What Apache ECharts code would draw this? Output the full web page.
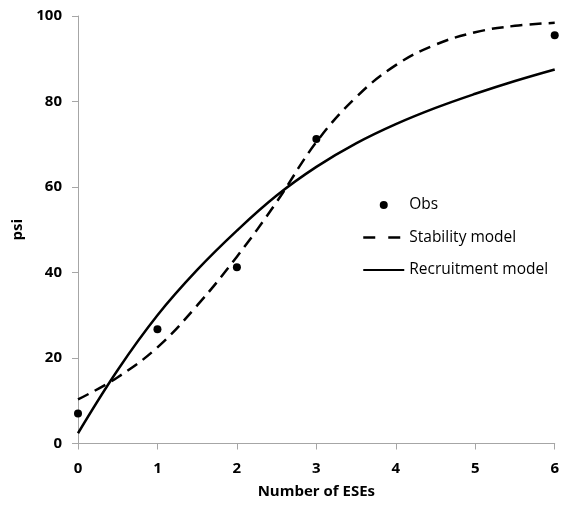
<!DOCTYPE html>
<html>
<head>
<meta charset="utf-8">
<script src="https://cdn.jsdelivr.net/npm/echarts@6/dist/echarts.min.js"></script>
<style>html,body{margin:0;padding:0;background:#fff;}#c{width:562px;height:510px;}</style>
</head>
<body>
<div id="c"></div>
<script>
// Observed values
const obsX = [0, 1, 2, 3, 6];
const obsY = [7, 26.7, 41.2, 71.2, 95.5];
// Stability model (dashed)
const stabX = [0, 0.5, 1, 1.5, 2, 2.5, 3, 3.5, 4, 4.5, 5, 5.5, 6];
const stabY = [10.3, 15.5, 22.5, 32.3, 43.7, 56.5, 70.5, 81, 88.5, 93.3, 96.2, 97.7, 98.4];
// Recruitment model (solid)
const recX = [0, 0.5, 1, 1.5, 2, 2.5, 3, 3.5, 4, 4.5, 5, 5.5, 6];
const recY = [2.4, 17.2, 30, 40.6, 49.8, 58, 64.7, 70.2, 74.7, 78.5, 81.8, 84.8, 87.5];
const xTicks = [0, 1, 2, 3, 4, 5, 6];
const yTicks = [0, 20, 40, 60, 80, 100];
const names = ['Obs', 'Stability model', 'Recruitment model'];

const zip = (xs, ys) => xs.map((x, i) => [x, ys[i]]);
const font = '"Open Sans", Lato, sans-serif';
const axisCol = '#a6a6a6';

const chart = echarts.init(document.getElementById('c'), null, {renderer: 'canvas'});
chart.setOption({
  animation: false,
  backgroundColor: '#fff',
  grid: {left: 78, right: 7, top: 16, bottom: 66.5, containLabel: false},
  legend: {
    orient: 'vertical', left: 357, top: 192,
    itemWidth: 41, itemHeight: 10, itemGap: 16.5,
    textStyle: {fontFamily: font, fontSize: 15.5, color: '#000'},
    data: [
      {name: names[0]},
      {name: names[1], itemStyle: {opacity: 0}, lineStyle: {type: [12, 13], width: 2.5, cap: 'butt'}},
      {name: names[2], itemStyle: {opacity: 0}}
    ]
  },
  xAxis: {
    type: 'value', min: xTicks[0], max: xTicks[xTicks.length - 1], interval: 1,
    name: 'Number of ESEs', nameLocation: 'middle', nameGap: 41,
    nameTextStyle: {fontFamily: font, fontSize: 15, fontWeight: 'bold', color: '#000'},
    axisLine: {show: true, onZero: false, lineStyle: {color: axisCol, width: 1}},
    axisTick: {show: true, length: 6, inside: false, lineStyle: {color: axisCol}},
    axisLabel: {margin: 18, fontFamily: font, fontSize: 15, fontWeight: 'bold', color: '#000'},
    splitLine: {show: false}
  },
  yAxis: {
    type: 'value', min: yTicks[0], max: yTicks[yTicks.length - 1], interval: 20,
    name: 'psi', nameLocation: 'middle', nameGap: 52, nameRotate: 90,
    nameTextStyle: {fontFamily: font, fontSize: 15, fontWeight: 'bold', color: '#000'},
    axisLine: {show: true, lineStyle: {color: axisCol, width: 1}},
    axisTick: {show: true, length: 6, inside: false, lineStyle: {color: axisCol}},
    axisLabel: {margin: 16, fontFamily: font, fontSize: 15, fontWeight: 'bold', color: '#000'},
    splitLine: {show: false}
  },
  series: [
    {
      name: names[0], type: 'line', data: zip(obsX, obsY),
      symbol: 'circle', symbolSize: 8, showSymbol: true,
      itemStyle: {color: '#000'}, lineStyle: {width: 0, color: '#000'}, z: 5
    },
    {
      name: names[1], type: 'line', data: zip(stabX, stabY), smooth: 0.4,
      symbol: 'none', itemStyle: {color: '#000'},
      lineStyle: {color: '#000', width: 2.5, type: [12, 7], cap: 'butt'}
    },
    {
      name: names[2], type: 'line', data: zip(recX, recY), smooth: 0.4,
      symbol: 'none', itemStyle: {color: '#000'},
      lineStyle: {color: '#000', width: 2.5, type: 'solid'}
    }
  ]
});
</script>
</body>
</html>
